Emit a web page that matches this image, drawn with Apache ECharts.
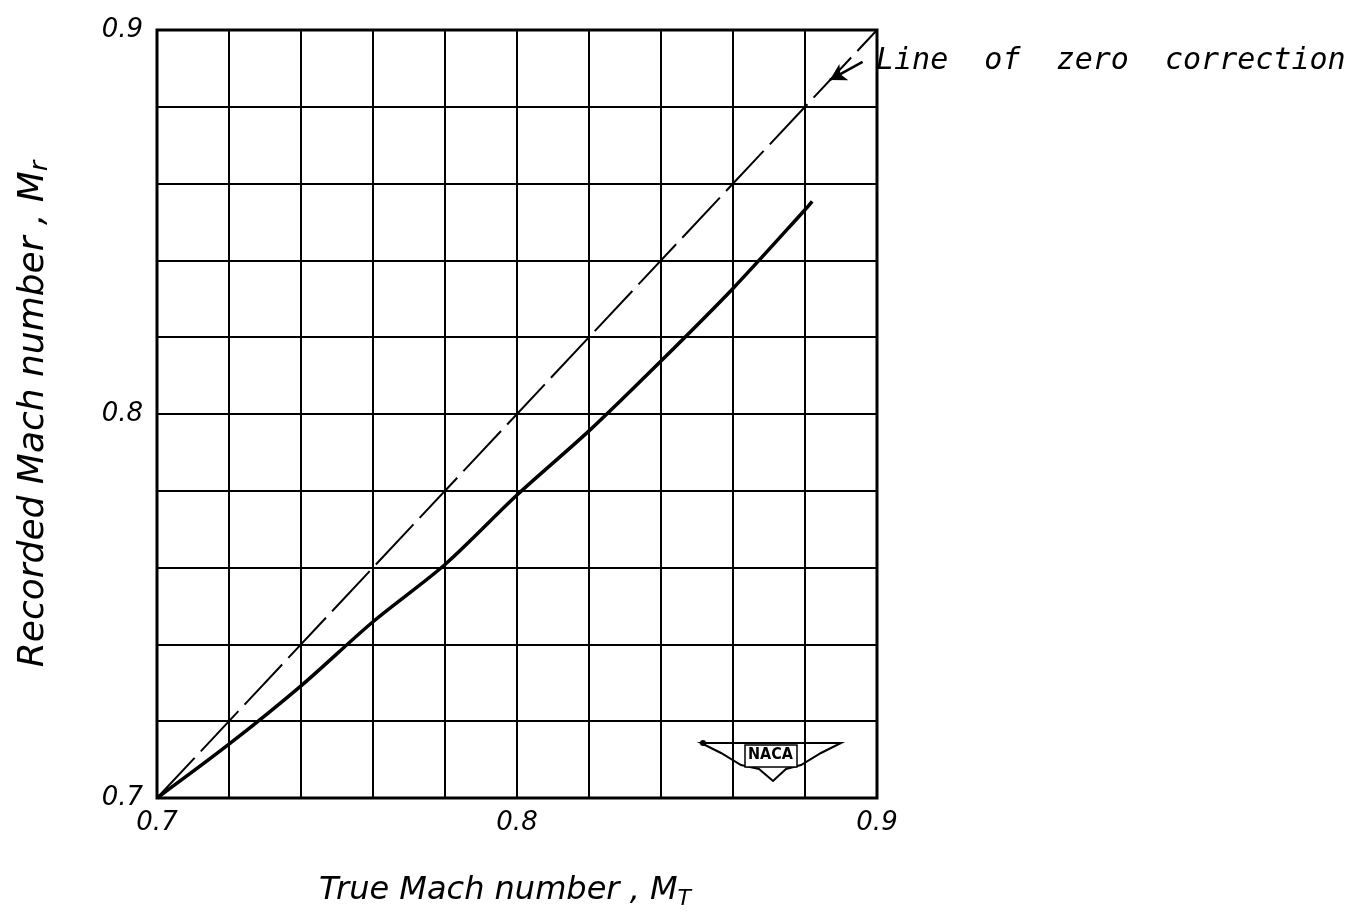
<!DOCTYPE html>
<html><head><meta charset="utf-8">
<script src="https://cdn.jsdelivr.net/npm/echarts@6/dist/echarts.min.js"></script>
<style>html,body{margin:0;padding:0;background:#fff}#c{width:1364px;height:921px}</style>
</head><body><div id="c"></div>
<script>
const xTicks = [0.7, 0.8, 0.9];
const yTicks = [0.7, 0.8, 0.9];
const trueMach = [0.70, 0.72, 0.74, 0.76, 0.78, 0.80, 0.82, 0.84, 0.86, 0.88, 0.882];
const recordedMach = [0.700, 0.714, 0.7292, 0.7459, 0.7608, 0.7789, 0.7956, 0.8138, 0.8327, 0.8532, 0.8554];
const zeroLineX = [0.70, 0.90];
const zeroLineY = [0.70, 0.90];
const annotationText = 'Line  of  zero  correction';
const arrowFrom = [0.896, 0.8917];
const arrowTo = [0.8869, 0.887];

const FONT = 'DejaVu Sans';
const chart = echarts.init(document.getElementById('c'));
const fmt = v => {
  const hit = xTicks.find(t => Math.abs(t - v) < 1e-6);
  return hit !== undefined ? hit.toFixed(1) : '';
};
chart.setOption({
  backgroundColor: '#fff',
  animation: false,
  grid: { left: 157, right: 487, top: 30, bottom: 123, show: true, borderColor: '#000', borderWidth: 3, backgroundColor: 'transparent' },
  xAxis: {
    type: 'value', min: 0.7, max: 0.9, interval: 0.02,
    name: '{a|True Mach number , M}{s|T}', nameLocation: 'middle', nameGap: 74,
    nameTextStyle: { padding: [0, 24, 0, 0], rich: { a: { fontFamily: FONT, fontStyle: 'italic', fontSize: 32, color: '#000' }, s: { fontFamily: FONT, fontStyle: 'italic', fontSize: 22, color: '#000', padding: [16, 0, 0, 0] } } },
    axisLine: { show: false }, axisTick: { show: false },
    splitLine: { show: true, lineStyle: { color: '#000', width: 2 } },
    axisLabel: { formatter: fmt, fontFamily: FONT, fontStyle: 'italic', fontSize: 26, color: '#000', margin: 12 }
  },
  yAxis: {
    type: 'value', min: 0.7, max: 0.9, interval: 0.02,
    name: '{a|Recorded Mach number , M}{s|r}', nameLocation: 'middle', nameGap: 104, nameRotate: 90,
    nameTextStyle: { rich: { a: { fontFamily: FONT, fontStyle: 'italic', fontSize: 36, color: '#000' }, s: { fontFamily: FONT, fontStyle: 'italic', fontSize: 25, color: '#000', padding: [14, 0, 0, 0] } } },
    axisLine: { show: false }, axisTick: { show: false },
    splitLine: { show: true, lineStyle: { color: '#000', width: 2 } },
    axisLabel: { formatter: fmt, fontFamily: FONT, fontStyle: 'italic', fontSize: 26, color: '#000', margin: 14 }
  },
  series: [
    {
      type: 'line', data: zeroLineX.map((x, i) => [x, zeroLineY[i]]),
      symbol: 'none', lineStyle: { color: '#000', width: 2, type: [55, 9] }, z: 3,
      markLine: {
        symbol: ['none', 'arrow'], symbolSize: [14, 16], silent: true, label: { show: false },
        lineStyle: { color: '#000', width: 2.5, type: 'solid' },
        data: [[{ coord: arrowFrom }, { coord: arrowTo }]]
      }
    },
    {
      type: 'line', data: trueMach.map((x, i) => [x, recordedMach[i]]),
      symbol: 'none', smooth: 0.3, lineStyle: { color: '#000', width: 3.5 }, z: 4
    }
  ],
  graphic: [
    { type: 'text', left: 876, top: 46, style: { text: annotationText, fontFamily: 'DejaVu Sans Mono', fontStyle: 'italic', fontSize: 30, fill: '#000' } },
    { type: 'group', left: 700, top: 740, children: [
      { type: 'polygon', shape: { points: [[0,4],[140,4],[120,14],[100,26],[85,30],[72,42],[58,30],[40,26],[20,14]] }, style: { fill: '#fff', stroke: '#000', lineWidth: 2 } },
      { type: 'circle', shape: { cx: 2, cy: 4, r: 3 }, style: { fill: '#000' } },
      { type: 'rect', shape: { x: 44, y: 6, width: 52, height: 22 }, style: { fill: '#fff', stroke: '#000', lineWidth: 1.5 } },
      { type: 'text', x: 47, y: 8, style: { text: 'NACA', fontFamily: 'DejaVu Sans Condensed', fontWeight: 'bold', fontSize: 16, fill: '#000' } }
    ] }
  ]
});
</script></body></html>
